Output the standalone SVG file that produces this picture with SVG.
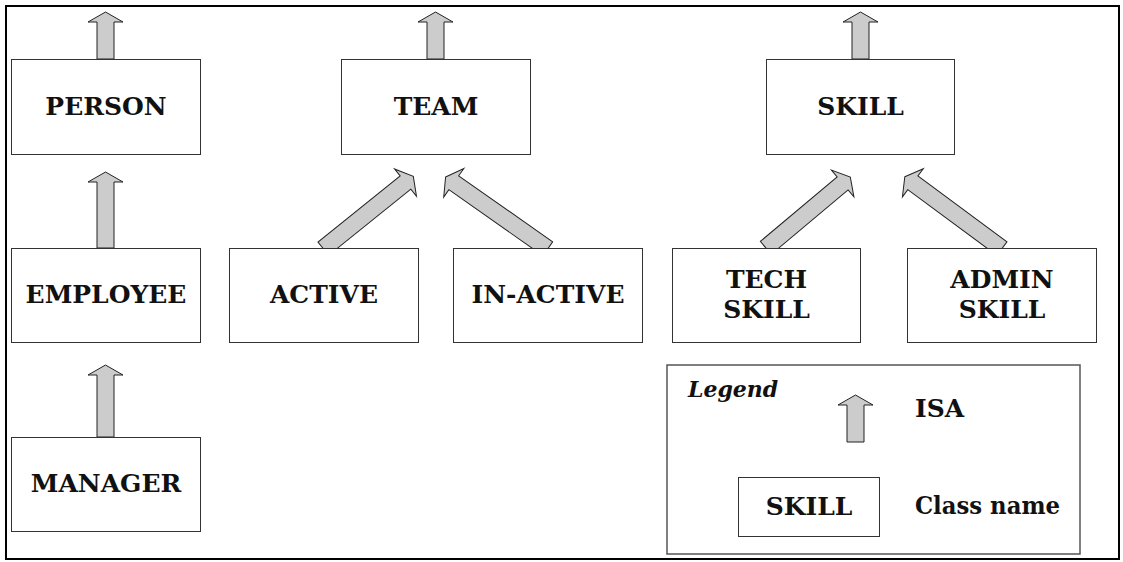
<svg xmlns="http://www.w3.org/2000/svg" width="1123" height="562" viewBox="0 0 1123 562">
<style>
.box{fill:#fff;stroke:#333;stroke-width:1}
.isa{fill:#cccccc;stroke:#222;stroke-width:1;stroke-linejoin:miter}
.t{font-family:"DejaVu Serif","Liberation Serif",serif;font-weight:bold;font-size:25px;fill:#111;text-anchor:middle}
.tl{font-family:"DejaVu Serif","Liberation Serif",serif;font-weight:bold;font-size:25px;fill:#111}
.lg{font-family:"DejaVu Serif","Liberation Serif",serif;font-weight:bold;font-style:italic;font-size:22px;fill:#111}
</style>
<rect x="0" y="0" width="1123" height="562" fill="#fff"/>
<rect x="6" y="6" width="1113" height="553" fill="none" stroke="#000" stroke-width="2"/>
<g id="connectors">
<path class="isa" transform="translate(105.5,12)" d="M0,0 L17.5,10 L8.5,10 L8.5,47 L-8.5,47 L-8.5,10 L-17.5,10 Z"/>
<path class="isa" transform="translate(435.5,12)" d="M0,0 L17.5,10 L8.5,10 L8.5,47 L-8.5,47 L-8.5,10 L-17.5,10 Z"/>
<path class="isa" transform="translate(860.5,12)" d="M0,0 L17.5,10 L8.5,10 L8.5,47 L-8.5,47 L-8.5,10 L-17.5,10 Z"/>
<path class="isa" transform="translate(105.5,172)" d="M0,0 L17.5,10 L8.5,10 L8.5,76 L-8.5,76 L-8.5,10 L-17.5,10 Z"/>
<path class="isa" transform="translate(105.5,365)" d="M0,0 L17.5,10 L8.5,10 L8.5,72 L-8.5,72 L-8.5,10 L-17.5,10 Z"/>
<path class="isa" transform="translate(413.3,176.3) rotate(51.2)" d="M0,0 L17.5,10 L8.5,10 L8.5,115.5 L-8.5,115.5 L-8.5,10 L-17.5,10 Z"/>
<path class="isa" transform="translate(445.6,177) rotate(-54.9)" d="M0,0 L17.5,10 L8.5,10 L8.5,124.9 L-8.5,124.9 L-8.5,10 L-17.5,10 Z"/>
<path class="isa" transform="translate(850.3,177) rotate(50)" d="M0,0 L17.5,10 L8.5,10 L8.5,110.3 L-8.5,110.3 L-8.5,10 L-17.5,10 Z"/>
<path class="isa" transform="translate(904.8,176.8) rotate(-53.5)" d="M0,0 L17.5,10 L8.5,10 L8.5,120.8 L-8.5,120.8 L-8.5,10 L-17.5,10 Z"/>
</g>
<g id="person"><rect class="box" x="11.5" y="59.5" width="189" height="95"/><text class="t" x="106" y="115">PERSON</text></g>
<g id="team"><rect class="box" x="341.5" y="59.5" width="189" height="95"/><text class="t" x="436" y="115">TEAM</text></g>
<g id="skill"><rect class="box" x="766.5" y="59.5" width="188" height="95"/><text class="t" x="860.5" y="115">SKILL</text></g>
<g id="employee"><rect class="box" x="11.5" y="248.5" width="189" height="94"/><text class="t" x="106" y="303">EMPLOYEE</text></g>
<g id="active"><rect class="box" x="229.5" y="248.5" width="189" height="94"/><text class="t" x="324" y="303">ACTIVE</text></g>
<g id="inactive"><rect class="box" x="453.5" y="248.5" width="189" height="94"/><text class="t" x="548" y="303">IN-ACTIVE</text></g>
<g id="techskill"><rect class="box" x="672.5" y="248.5" width="188" height="94"/><text class="t" x="766.5" y="288">TECH</text><text class="t" x="766.5" y="318">SKILL</text></g>
<g id="adminskill"><rect class="box" x="907.5" y="248.5" width="189" height="94"/><text class="t" x="1002" y="288">ADMIN</text><text class="t" x="1002" y="318">SKILL</text></g>
<g id="manager"><rect class="box" x="11.5" y="437.5" width="189" height="94"/><text class="t" x="106" y="492">MANAGER</text></g>
<g id="legend">
<rect x="667" y="365" width="413" height="189" fill="#fff" stroke="#555" stroke-width="1.5"/>
<text class="lg" x="688" y="397">Legend</text>
<path class="isa" transform="translate(855.5,395)" d="M0,0 L17.5,10 L8.5,10 L8.5,47 L-8.5,47 L-8.5,10 L-17.5,10 Z"/>
<text class="tl" x="915" y="417">ISA</text>
<rect class="box" x="738.5" y="477.5" width="141" height="59"/>
<text class="t" x="809" y="515">SKILL</text>
<text class="tl" x="915" y="514" textLength="145" lengthAdjust="spacingAndGlyphs">Class name</text>
</g>
</svg>
